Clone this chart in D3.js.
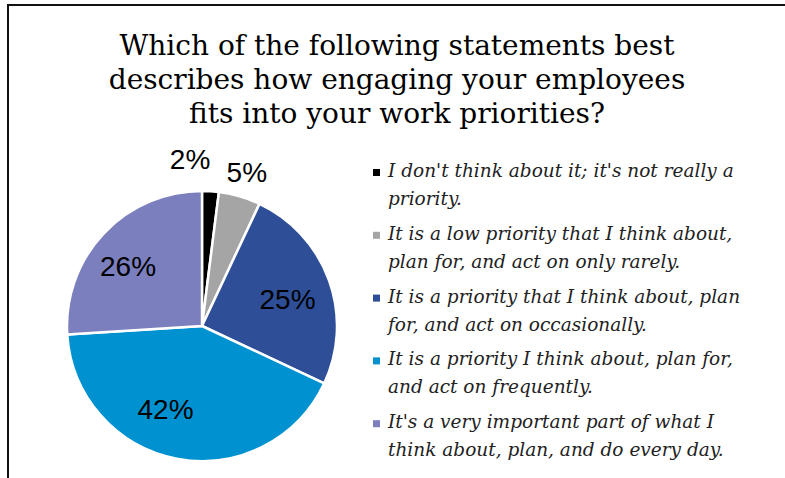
<!DOCTYPE html>
<meta charset="utf-8">
<style>
    body { margin: 0; background: #fff; }
    .title {
        font-family: "DejaVu Serif", serif;
        font-size: 28px;
        fill: #000;
    }
    .legend text {
        font-family: "DejaVu Serif", serif;
        font-style: italic;
        font-size: 18.5px;
        fill: #222;
    }
    .pct {
        font-family: "Liberation Sans", arial, sans-serif;
        font-size: 28px;
        fill: #000;
    }
</style>
<body>
<script src="https://cdn.jsdelivr.net/npm/d3@7"></script>
<script>
// chart data
var titleLines = ["Which of the following statements best",
                  "describes how engaging your employees",
                  "fits into your work priorities?"];

var categories = [
    "I don't think about it; it's not really a|priority.",
    "It is a low priority that I think about,|plan for, and act on only rarely.",
    "It is a priority that I think about, plan|for, and act on occasionally.",
    "It is a priority I think about, plan for,|and act on frequently.",
    "It's a very important part of what I|think about, plan, and do every day."
];
var values = [2, 5, 25, 42, 26];
var colors = ["#000000", "#a5a5a5", "#2e4f98", "#0092d0", "#7b7fbd"];

var width = 785, height = 478;
var cx = 202, cy = 326, radius = 135;

var svg = d3.select("body").append("svg")
    .attr("width", width)
    .attr("height", height);

// frame (only left and top edges are visible)
svg.append("path")
    .attr("d", "M8,478V5H785")
    .attr("fill", "none")
    .attr("stroke", "#111")
    .attr("stroke-width", 2);

// title
svg.append("text")
    .attr("class", "title")
    .attr("text-anchor", "middle")
    .selectAll("tspan")
    .data(titleLines)
    .enter().append("tspan")
    .attr("x", 397)
    .attr("y", function(d, i) { return 55 + i * 34; })
    .text(function(d) { return d; });

// pie
var pie = d3.pie().sort(null).value(function(d) { return d; });
var arcs = pie(values);
var arc = d3.arc().innerRadius(0).outerRadius(radius);
var labelArc = d3.arc().innerRadius(radius * 0.65).outerRadius(radius * 0.65);
var outerArc = d3.arc().innerRadius(radius * 1.19).outerRadius(radius * 1.19);

var g = svg.append("g")
    .attr("transform", "translate(" + cx + "," + cy + ")");

g.selectAll("path")
    .data(arcs)
    .enter().append("path")
    .attr("d", arc)
    .attr("fill", function(d, i) { return colors[i]; })
    .attr("stroke", "#fff")
    .attr("stroke-width", 2.5)
    .attr("stroke-linejoin", "round");

// small slices get their label outside the pie
var nudge = [-22, 0, 3, -20, -10];
g.selectAll("text")
    .data(arcs)
    .enter().append("text")
    .attr("class", "pct")
    .attr("text-anchor", "middle")
    .attr("dy", "0.35em")
    .attr("x", function(d, i) {
        var p = (d.data < 10 ? outerArc : labelArc).centroid(d);
        return p[0] + nudge[i];
    })
    .attr("y", function(d, i) {
        var p = (d.data < 10 ? outerArc : labelArc).centroid(d);
        return p[1] + (i === 0 ? -6 : i === 2 ? 3 : i === 3 ? -3 : 0);
    })
    .text(function(d) { return d.data + "%"; });

// legend
var legend = svg.append("g").attr("class", "legend");
var item = legend.selectAll("g")
    .data(categories)
    .enter().append("g")
    .attr("transform", function(d, i) { return "translate(373," + (177 + i * 62.8) + ")"; });

item.append("rect")
    .attr("x", 0)
    .attr("y", -8)
    .attr("width", 7)
    .attr("height", 7)
    .attr("fill", function(d, i) { return colors[i]; });

item.append("text")
    .selectAll("tspan")
    .data(function(d) { return d.split("|"); })
    .enter().append("tspan")
    .attr("x", 15)
    .attr("y", function(d, i) { return i * 28; })
    .text(function(d) { return d; });
</script>
